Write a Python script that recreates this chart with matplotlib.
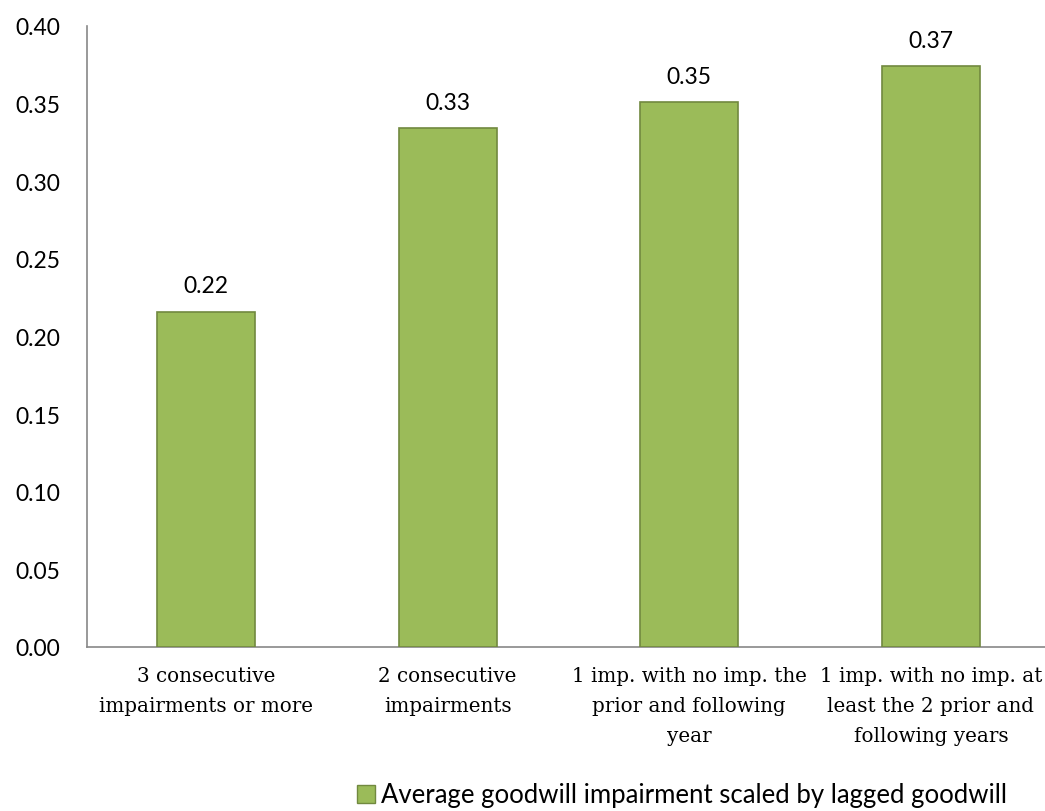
import matplotlib
matplotlib.use("Agg")
import matplotlib.pyplot as plt
from matplotlib.patches import Patch

categories = ["3 consecutive\nimpairments or more",
              "2 consecutive\nimpairments",
              "1 imp. with no imp. the\nprior and following\nyear",
              "1 imp. with no imp. at\nleast the 2 prior and\nfollowing years"]
values = [0.216, 0.334, 0.351, 0.374]
yticks = [0.00, 0.05, 0.10, 0.15, 0.20, 0.25, 0.30, 0.35, 0.40]
series_name = "Average goodwill impairment scaled by lagged goodwill"

fig = plt.figure(figsize=(10.45, 8.12), dpi=100)
ax = fig.add_axes([87/1045, 164/812, 958/1045, 621/812])

x = list(range(len(categories)))
ax.bar(x, values, width=0.405, color="#9BBB59", edgecolor="#71893F", linewidth=1.2, zorder=3)
ax.set_xlim(-0.492, 3.472)
ax.set_ylim(0, 0.40)
ax.set_yticks(yticks)
ax.set_yticklabels([f"{v:.2f}" for v in yticks], fontsize=16.5, family="Lato")
ax.tick_params(axis="y", length=0, pad=19)
ax.tick_params(axis="x", length=0, pad=14)
ax.set_xticks(x)
ax.set_xticklabels(categories, fontsize=14.3, family="DejaVu Serif", linespacing=1.72)

for s in ["top", "right"]:
    ax.spines[s].set_visible(False)
for s in ["left", "bottom"]:
    ax.spines[s].set_color("#888888")
    ax.spines[s].set_linewidth(1.2)

for xi, v in zip(x, values):
    ax.annotate(f"{v:.2f}", (xi, v), xytext=(0, 11), textcoords="offset points",
                ha="center", va="bottom", fontsize=16.5, family="Lato")

handle = Patch(facecolor="#9BBB59", edgecolor="#71893F", linewidth=1)
fig.legend([handle], [series_name], loc="center", bbox_to_anchor=(682/1045, 1 - 796/812),
           frameon=False, prop={"family": "Lato", "size": 18.5},
           handlelength=0.7, handleheight=0.7, handletextpad=0.25,
           borderpad=0.2)

fig.savefig("out.png", dpi=100)
